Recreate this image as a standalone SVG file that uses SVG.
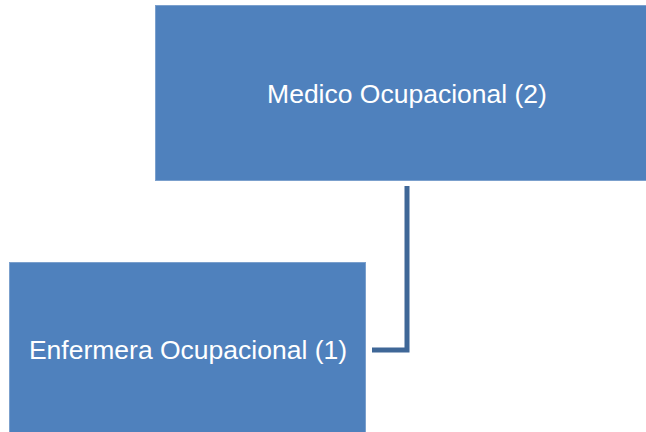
<svg xmlns="http://www.w3.org/2000/svg" width="646" height="432" viewBox="0 0 646 432">
<style>
.box{fill:#4F81BD;stroke:#7BA0CD;stroke-width:1}
.lbl{font-family:"Liberation Sans",Arial,sans-serif;font-size:26.5px;fill:#FFFFFF;text-anchor:middle}
.conn{fill:none;stroke:#3F6797;stroke-width:5}
</style>
<rect width="646" height="432" fill="#FFFFFF"/>
<g id="connectors">
<polyline class="conn" points="407,186 407,350 372,350"/>
</g>
<g id="medico">
<rect class="box" x="155.5" y="5.5" width="492" height="175"/>
<text class="lbl" x="407" y="103">Medico Ocupacional (2)</text>
</g>
<g id="enfermera">
<rect class="box" x="9.5" y="262.5" width="356" height="171"/>
<text class="lbl" x="188" y="359">Enfermera Ocupacional (1)</text>
</g>
</svg>
